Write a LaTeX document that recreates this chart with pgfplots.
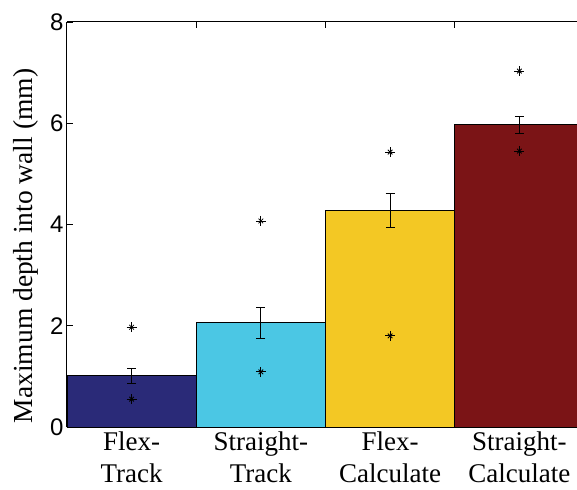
\documentclass[border=0pt]{standalone}
\usepackage{fontspec}
\setmainfont{Liberation Serif}
\newfontfamily\arialfont{Liberation Sans}
\usepackage{pgfplots}
\pgfplotsset{compat=1.18}
\definecolor{cnavy}{RGB}{42,42,120}
\definecolor{ccyan}{RGB}{75,199,228}
\definecolor{cyel}{RGB}{243,200,36}
\definecolor{cred}{RGB}{123,20,22}
\pgfplotsset{
  mybar/.style={ybar, bar width=1, bar shift=0pt, fill=#1, draw=black, line width=0.8pt,
    error bars/.cd, y dir=both, y explicit,
    error bar style={black, line width=0.8pt},
    error mark options={rotate=90, black, mark size=4.5pt, line width=0.8pt}},
}
\begin{document}
\begin{tikzpicture}
\begin{axis}[
  scale only axis,
  width=510pt, height=405pt,
  xmin=0.5, xmax=4.446,
  ymin=0, ymax=8,
  ytick={0,2,4,6,8},
  xtick={1.5,2.5,3.5},
  xticklabels={},
  extra x ticks={1,2,3,4},
  extra x tick labels={Flex-\\Track,Straight-\\Track,Flex-\\Calculate,Straight-\\Calculate},
  extra x tick style={major tick length=0pt, tick label style={align=center, font=\fontsize{27}{32}\selectfont, yshift=-1pt}},
  axis x line*=box,
  axis y line*=left,
  tick align=inside,
  major tick length=6pt,
  tick style={black, line width=0.8pt},
  axis line style={black, line width=1pt},
  /pgf/number format/assume math mode=true,
  yticklabel style={font=\arialfont\fontsize{24}{24}\selectfont, xshift=0pt},
  ylabel={Maximum depth into wall (mm)},
  ylabel style={font=\fontsize{27.5}{27.5}\selectfont, at={(ticklabel cs:0.447)}},
  ylabel shift=5pt,
  clip=false,
]
\addplot[mybar=cnavy] coordinates {(1,1.01) +- (0,0.15)};
\addplot[mybar=ccyan] coordinates {(2,2.06) +- (0,0.31)};
\addplot[mybar=cyel] coordinates {(3,4.28) +- (0,0.34)};
\addplot[mybar=cred] coordinates {(4,5.97) +- (0,0.17)};
\addplot[only marks, mark=+, mark size=5pt, black, line width=0.8pt] coordinates {(1,1.97) (1,0.55) (2,4.07) (2,1.09) (3,5.43) (3,1.80) (4,7.03) (4,5.45)};
\addplot[only marks, mark=x, mark size=3.3pt, black, line width=0.8pt] coordinates {(1,1.97) (1,0.55) (2,4.07) (2,1.09) (3,5.43) (3,1.80) (4,7.03) (4,5.45)};
\coordinate (bl) at (rel axis cs:0,0);
\end{axis}
\pgfresetboundingbox
\path ([shift={(-67pt,-62pt)}]bl) rectangle ([shift={(510pt,427pt)}]bl);
\end{tikzpicture}
\end{document}
